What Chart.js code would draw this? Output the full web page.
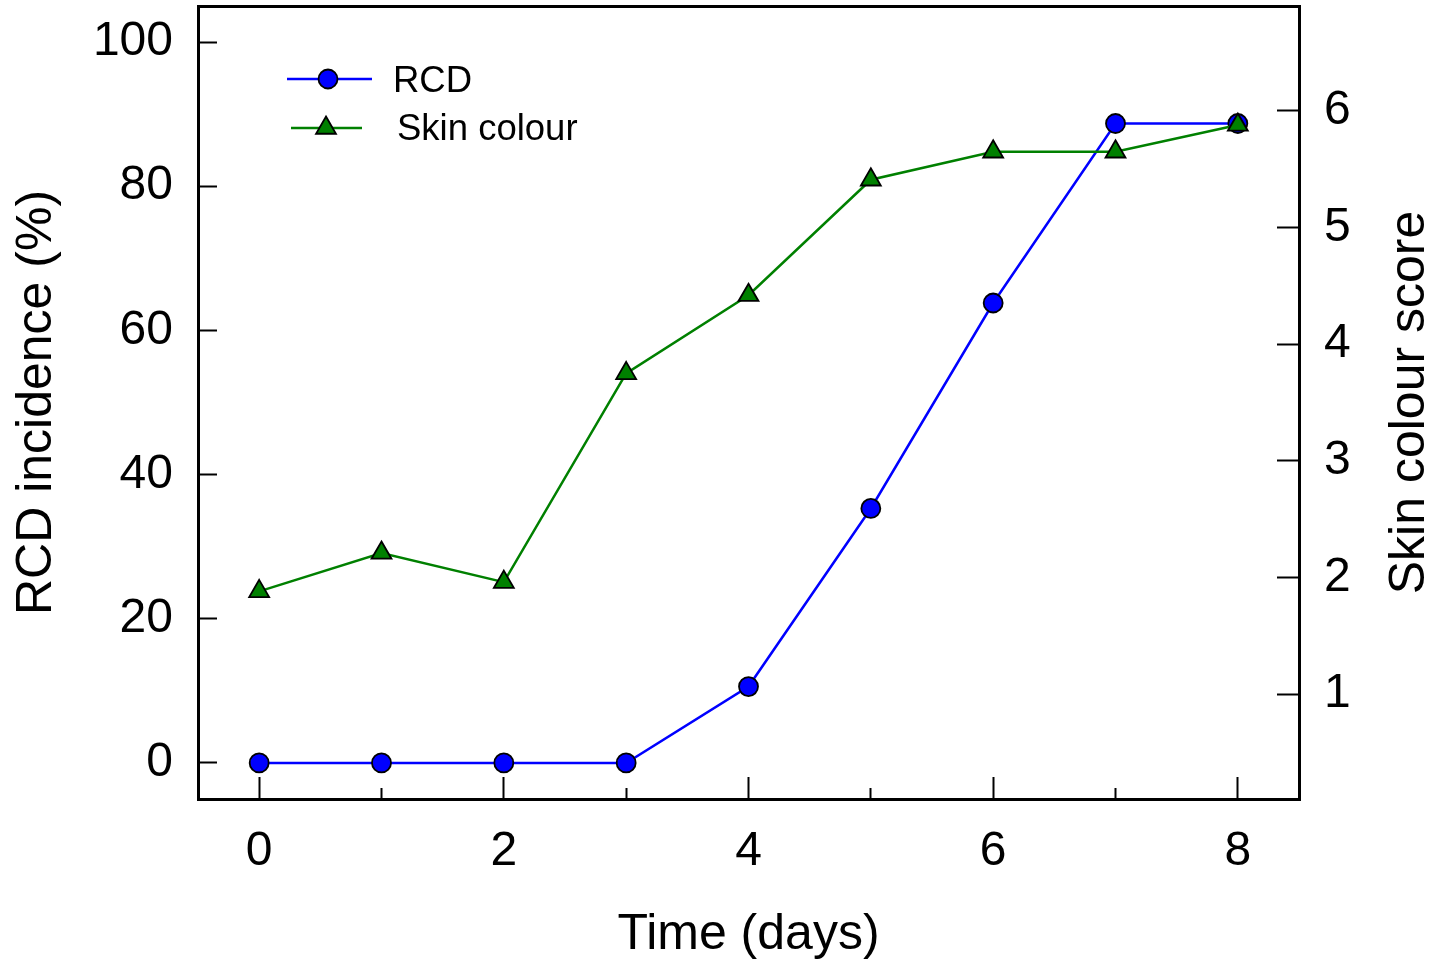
<!DOCTYPE html>
<html>
<head>
<meta charset="utf-8">
<title>RCD incidence and skin colour</title>
<script src="https://cdn.jsdelivr.net/npm/chart.js@4.4.1/dist/chart.umd.min.js"></script>
<style>
  html, body { margin: 0; padding: 0; background: #fff; }
  #wrap { width: 1435px; height: 961px; }
</style>
</head>
<body>
<div id="wrap"><canvas id="chart" width="1435" height="961"></canvas></div>
<script>
const days = [0, 1, 2, 3, 4, 5, 6, 7, 8];
const rcdIncidence = [0, 0, 0, 0, 10.6, 35.3, 63.8, 88.7, 88.7];
const skinColourScore = [1.88, 2.21, 1.96, 3.75, 4.42, 5.41, 5.65, 5.65, 5.88];
const dayTicks = [0, 1, 2, 3, 4, 5, 6, 7, 8];
const incidenceTicks = [0, 20, 40, 60, 80, 100];
const scoreTicks = [1, 2, 3, 4, 5, 6];

const FONT = "'Liberation Sans', Arial, sans-serif";
const toPoints = (ys) => days.map((d, i) => ({ x: d, y: ys[i] }));
const setTicks = (values) => (scale) => { scale.ticks = values.map(v => ({ value: v })); };
const fixSize = (prop, size) => (scale) => {
    scale[prop] = size;
    scale.paddingTop = scale.paddingBottom = scale.paddingLeft = scale.paddingRight = 0;
};

// frame, legend (line + marker) and the right axis title, which reads bottom-to-top
const extras = {
    id: 'extras',
    afterDraw(chart) {
        const { ctx, chartArea: a } = chart;
        ctx.save();
        ctx.strokeStyle = '#000';
        ctx.lineWidth = 3;
        ctx.strokeRect(a.left + 0.5, a.top + 0.5, a.right - a.left, a.bottom - a.top);

        const entries = [
            { ds: 0, x1: 287, x2: 372, mx: 328, y: 79, tx: 393, base: 92 },
            { ds: 1, x1: 291, x2: 362, mx: 326, y: 128, tx: 397, base: 140 }
        ];
        entries.forEach(e => {
            const ds = chart.data.datasets[e.ds];
            ctx.strokeStyle = ds.borderColor;
            ctx.lineWidth = ds.borderWidth;
            ctx.beginPath();
            ctx.moveTo(e.x1, e.y);
            ctx.lineTo(e.x2, e.y);
            ctx.stroke();
            ctx.fillStyle = ds.pointBackgroundColor;
            ctx.strokeStyle = ds.pointBorderColor;
            ctx.lineWidth = ds.pointBorderWidth;
            Chart.helpers.drawPoint(ctx, {
                pointStyle: ds.pointStyle, radius: ds.pointRadius,
                borderWidth: ds.pointBorderWidth, rotation: 0
            }, e.mx, e.y);
            ctx.fillStyle = '#000';
            ctx.font = '36.5px ' + FONT;
            ctx.textAlign = 'left';
            ctx.textBaseline = 'alphabetic';
            ctx.fillText(ds.label, e.tx, e.base);
        });

        ctx.translate(1410, (a.top + a.bottom) / 2);
        ctx.rotate(-Math.PI / 2);
        ctx.font = '50px ' + FONT;
        ctx.fillStyle = '#000';
        ctx.textAlign = 'center';
        ctx.textBaseline = 'middle';
        ctx.fillText('Skin colour score', 0, 0);
        ctx.restore();
    }
};

new Chart(document.getElementById('chart'), {
    type: 'line',
    data: {
        datasets: [{
            label: 'RCD',
            data: toPoints(rcdIncidence),
            yAxisID: 'y',
            borderColor: '#0000ff',
            borderWidth: 2.5,
            pointStyle: 'circle',
            pointRadius: 9.5,
            pointBackgroundColor: '#0000ff',
            pointBorderColor: '#000',
            pointBorderWidth: 1.8,
            tension: 0,
            order: 2
        }, {
            label: 'Skin colour',
            data: toPoints(skinColourScore),
            yAxisID: 'y2',
            borderColor: '#008000',
            borderWidth: 2.5,
            pointStyle: 'triangle',
            pointRadius: 11.5,
            pointBackgroundColor: '#008000',
            pointBorderColor: '#000',
            pointBorderWidth: 1.8,
            tension: 0,
            order: 1
        }]
    },
    options: {
        responsive: false,
        animation: false,
        events: [],
        layout: { autoPadding: false, padding: { top: 6, left: 0, right: 0, bottom: 0 } },
        plugins: { legend: { display: false }, tooltip: { enabled: false } },
        scales: {
            x: {
                type: 'linear',
                position: 'bottom',
                min: -0.5,
                max: 8.5,
                afterBuildTicks: setTicks(dayTicks),
                afterFit: fixSize('height', 162),
                border: { color: '#000', width: 3 },
                grid: {
                    drawOnChartArea: false,
                    tickLength: -22,
                    tickWidth: 2,
                    tickColor: '#000',
                    tickBorderDash: (ctx) => (ctx.tick && ctx.tick.value % 2 !== 0) ? [13, 100] : []
                },
                ticks: {
                    color: '#000',
                    font: { family: FONT, size: 48 },
                    padding: 46,
                    autoSkip: false,
                    maxRotation: 0,
                    callback: (v) => (v % 2 === 0 ? String(v) : '')
                },
                title: {
                    display: true,
                    text: 'Time (days)',
                    color: '#000',
                    font: { family: FONT, size: 50, lineHeight: 1.04 },
                    padding: { top: 0, bottom: 0 }
                }
            },
            y: {
                type: 'linear',
                position: 'left',
                min: -5,
                max: 105,
                afterBuildTicks: setTicks(incidenceTicks),
                afterFit: fixSize('width', 198),
                border: { color: '#000', width: 3 },
                grid: { drawOnChartArea: false, tickLength: -19, tickWidth: 2, tickColor: '#000' },
                ticks: { color: '#000', font: { family: FONT, size: 48 }, padding: 44 },
                title: {
                    display: true,
                    text: 'RCD incidence (%)',
                    color: '#000',
                    font: { family: FONT, size: 50 },
                    padding: { top: 7, bottom: 0 }
                }
            },
            y2: {
                type: 'linear',
                position: 'right',
                min: 0.1,
                max: 6.9,
                afterBuildTicks: setTicks(scoreTicks),
                afterFit: fixSize('width', 136),
                border: { color: '#000', width: 3 },
                grid: { drawOnChartArea: false, tickLength: -22, tickWidth: 2, tickColor: '#000' },
                ticks: { color: '#000', font: { family: FONT, size: 48 }, padding: 47 }
            }
        }
    },
    plugins: [extras]
});
</script>
</body>
</html>
